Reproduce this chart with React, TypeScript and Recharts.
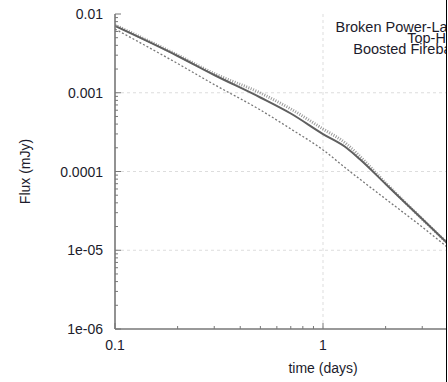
import { LineChart, Line, XAxis, YAxis, ReferenceLine } from 'recharts';

// afterglow light curves, flux in mJy against time in days
const times = [0.1, 0.2, 0.3, 0.5, 0.7, 1, 1.3, 1.5, 2, 3, 4];
const brokenPowerLaw = [7.04e-3, 2.93e-3, 1.68e-3, 8.7e-4, 5.45e-4, 2.99e-4, 1.99e-4, 1.44e-4, 6.94e-5, 2.49e-5, 1.2e-5];
const topHat = [7.25e-3, 3.01e-3, 1.75e-3, 9.93e-4, 6.22e-4, 3.47e-4, 2.23e-4, 1.57e-4, 7.15e-5, 2.49e-5, 1.2e-5];
const boostedFireball = [6.45e-3, 2.35e-3, 1.27e-3, 6.04e-4, 3.47e-4, 1.88e-4, 1.08e-4, 8.03e-5, 4.48e-5, 1.97e-5, 1.07e-5];

const xMajorTicks = [0.1, 1, 10];
const xTickLabels = ['0.1', '1', ''];
const yMajorTicks = [0.01, 0.001, 0.0001, 0.00001, 0.000001];
const yTickLabels = ['0.01', '0.001', '0.0001', '1e-05', '1e-06'];

const legendNames = ['Broken Power-Law', 'Top-Hat', 'Boosted Fireball'];

const data = times.map((t, i) => ({
  t,
  bpl: brokenPowerLaw[i],
  th: topHat[i],
  bf: boostedFireball[i],
}));

// log minor ticks 1..9 inside each decade
const steps = [1, 2, 3, 4, 5, 6, 7, 8, 9];
const xTicks = [...[0.1, 1].flatMap((d) => steps.map((m) => m * d)), 10];
const yTicks = [...[1e-6, 1e-5, 1e-4, 1e-3].flatMap((d) => steps.map((m) => m * d)), 0.01];

const majorIndex = (list: number[], v: number) =>
  list.findIndex((m) => Math.abs(m - v) < m * 1e-6);

const FONT = "'Liberation Sans', Arial, sans-serif";
const FRAME = '#777';

const series = [
  { key: 'th', stroke: '#9a9a9a', width: 3, dash: '1 1.5' },
  { key: 'bf', stroke: '#777', width: 1.3, dash: '2 2' },
  { key: 'bpl', stroke: '#5f5f5f', width: 2, dash: undefined },
];

function XTick(props: any) {
  const { x, y, payload, top } = props;
  const idx = majorIndex(xMajorTicks, payload.value);
  const len = idx >= 0 ? 6 : 3;
  const dir = top ? 1 : -1;
  return (
    <g>
      <line x1={x} y1={y} x2={x} y2={y + dir * len} stroke={FRAME} strokeWidth={1} />
      {!top && idx >= 0 && xTickLabels[idx] && (
        <text x={x} y={y + 21} textAnchor="middle" fontSize={14} fontFamily={FONT} fill="#1c1c2c">
          {xTickLabels[idx]}
        </text>
      )}
    </g>
  );
}

function YTick(props: any) {
  const { x, y, payload } = props;
  const idx = majorIndex(yMajorTicks, payload.value);
  const len = idx >= 0 ? 6 : 3;
  return (
    <g>
      <line x1={x} y1={y} x2={x + len} y2={y} stroke={FRAME} strokeWidth={1} />
      {idx >= 0 && (
        <text x={x - 12} y={y + 5} textAnchor="end" fontSize={14} fontFamily={FONT} fill="#1c1c2c">
          {yTickLabels[idx]}
        </text>
      )}
    </g>
  );
}

function Key() {
  return (
    <div
      style={{
        position: 'absolute',
        left: 250,
        top: 22,
        width: 256,
        fontFamily: FONT,
        fontSize: 14.5,
        lineHeight: '11px',
        color: '#1c1c2c',
      }}
    >
      {legendNames.map((name, i) => {
        const s = [series[2], series[0], series[1]][i];
        return (
          <div key={name} style={{ display: 'flex', justifyContent: 'flex-end', alignItems: 'center', height: 11 }}>
            <span style={{ whiteSpace: 'nowrap' }}>{name}</span>
            <svg width={40} height={11} style={{ marginLeft: 8 }}>
              <line x1={0} y1={6} x2={40} y2={6} stroke={s.stroke} strokeWidth={s.width} strokeDasharray={s.dash} />
            </svg>
          </div>
        );
      })}
    </div>
  );
}

export default function App() {
  return (
    <div style={{ position: 'fixed', left: 0, top: 0, width: 448, height: 382, background: '#fff' }}>
      <div style={{ position: 'absolute', left: 0, top: 0, width: 446, height: 382, overflow: 'hidden' }}>
        <LineChart width={560} height={382} data={data} margin={{ top: 14, right: 29, bottom: 0, left: 0 }}>
          <XAxis
            dataKey="t"
            type="number"
            scale="log"
            domain={[0.1, 10]}
            allowDataOverflow
            ticks={xTicks}
            interval={0}
            height={53}
            tickSize={0}
            tickMargin={0}
            tickLine={false}
            axisLine={{ stroke: FRAME, strokeWidth: 1.6 }}
            tick={<XTick />}
            label={{
              value: 'time (days)',
              position: 'insideBottom',
              offset: 9,
              style: { fontFamily: FONT, fontSize: 14, fill: '#1c1c2c' },
            }}
          />
          <XAxis
            xAxisId="top"
            orientation="top"
            dataKey="t"
            type="number"
            scale="log"
            domain={[0.1, 10]}
            allowDataOverflow
            ticks={xTicks}
            interval={0}
            height={0}
            tickSize={0}
            tickMargin={0}
            tickLine={false}
            axisLine={{ stroke: FRAME, strokeWidth: 1.6 }}
            tick={<XTick top />}
          />
          <YAxis
            type="number"
            scale="log"
            domain={[1e-6, 0.01]}
            allowDataOverflow
            ticks={yTicks}
            interval={0}
            width={115}
            tickSize={0}
            tickMargin={0}
            tickLine={false}
            axisLine={{ stroke: FRAME, strokeWidth: 1.6 }}
            tick={<YTick />}
            label={{
              value: 'Flux (mJy)',
              angle: -90,
              position: 'insideLeft',
              offset: 25,
              style: { textAnchor: 'middle', fontFamily: FONT, fontSize: 14, fill: '#1c1c2c' },
            }}
          />
          {yMajorTicks.slice(1, 4).map((v) => (
            <ReferenceLine key={v} y={v} stroke="#d4d4d4" strokeWidth={0.8} strokeDasharray="3 3" />
          ))}
          <ReferenceLine x={1} stroke="#d4d4d4" strokeWidth={0.8} strokeDasharray="3 3" />
          {series.map((s) => (
            <Line
              key={s.key}
              dataKey={s.key}
              type="monotone"
              stroke={s.stroke}
              strokeWidth={s.width}
              strokeDasharray={s.dash}
              dot={false}
              isAnimationActive={false}
            />
          ))}
        </LineChart>
        <Key />
      </div>
      <div style={{ position: 'absolute', left: 446, top: 0, width: 1, height: 382, background: '#000' }} />
    </div>
  );
}
